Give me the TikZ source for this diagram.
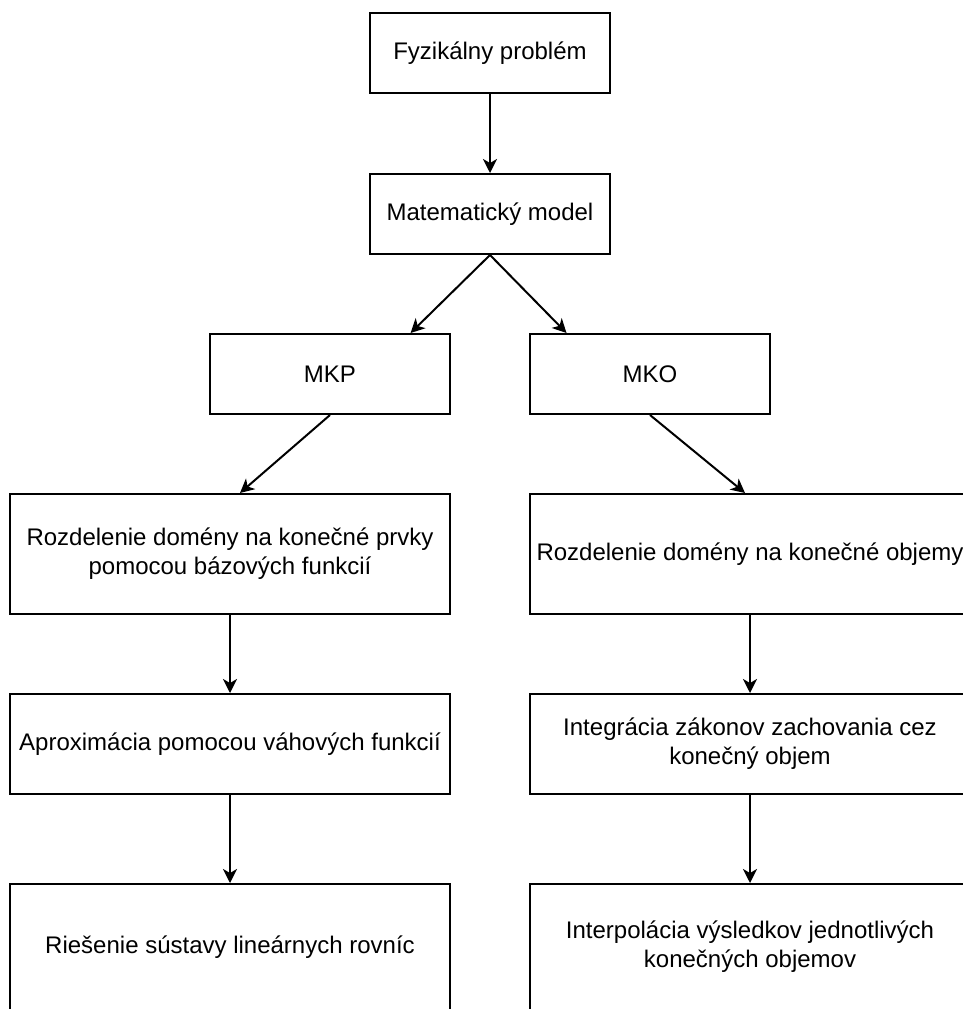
\documentclass[tikz,border=0pt]{standalone}
\usepackage{fontspec}
\setmainfont{Liberation Sans}
\usepackage{tikz}
\usetikzlibrary{arrows.meta,calc}

\tikzset{
  blok/.style={draw, line width=2pt, minimum width=240pt, minimum height=80pt,
    align=center, inner sep=0pt, font=\fontsize{24}{29}\selectfont},
  sirokyblok/.style={blok, minimum width=440pt},
  sipka/.style={line width=2pt, -{Stealth[length=14pt,width=14pt,inset=4pt]}}
}

\begin{document}
\begin{tikzpicture}[x=1pt,y=-1pt]
        \useasboundingbox (0,0) rectangle (963,1009);
        \clip (0,0) rectangle (963,1009);

        % boxes
        \node[blok] (fyz) at (490,53) {Fyzik\'alny probl\'em};
        \node[blok] (mat) at (490,214) {Matematick\'y model};
        \node[blok] (mkp) at (330,374) {MKP};
        \node[blok] (mko) at (650,374) {MKO};

        \node[sirokyblok, minimum height=120pt] (mkpdom) at (230,554)
            {Rozdelenie dom\'eny na kone\v{c}n\'e prvky\\pomocou b\'azov\'ych funkci\'i};
        \node[sirokyblok, minimum height=100pt] (mkpaprox) at (230,744)
            {Aproxim\'acia pomocou v\'ahov\'ych funkci\'i};
        \node[sirokyblok, minimum height=126pt] (mkpriesenie) at (230,947)
            {Rie\v{s}enie s\'ustavy line\'arnych rovn\'ic};

        \node[sirokyblok, minimum height=120pt] (mkodom) at (750,554)
            {Rozdelenie dom\'eny na kone\v{c}n\'e objemy};
        \node[sirokyblok, minimum height=100pt] (mkoint) at (750,744)
            {Integr\'acia z\'akonov zachovania cez\\kone\v{c}n\'y objem};
        \node[sirokyblok, minimum height=126pt] (mkointerp) at (750,947)
            {Interpol\'acia v\'ysledkov jednotliv\'ych\\kone\v{c}n\'ych objemov};

        %% arrows
        \draw[sipka] (fyz) -- (mat);
        \draw[sipka] (mat.south) -- ($(mkp.north west)!0.833!(mkp.north east)$);
        \draw[sipka] (mat.south) -- ($(mko.north west)!0.155!(mko.north east)$);
        \draw[sipka] (mkp.south) -- ($(mkpdom.north)+(10,0)$);
        \draw[sipka] (mko.south) -- ($(mkodom.north)+(-5,0)$);
        \draw[sipka] (mkpdom) -- (mkpaprox);
        \draw[sipka] (mkpaprox) -- (mkpriesenie);
        \draw[sipka] (mkodom) -- (mkoint);
        \draw[sipka] (mkoint) -- (mkointerp);
\end{tikzpicture}
\end{document}
